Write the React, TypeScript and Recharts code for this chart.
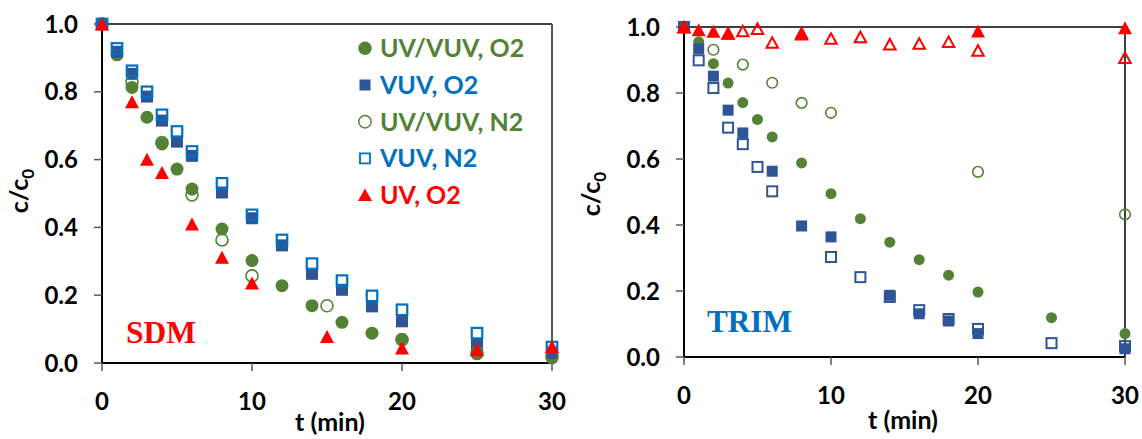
import React from 'react';
import { ScatterChart, Scatter, XAxis, YAxis, ReferenceLine } from 'recharts';

// ---------- data ----------
const xTicks = [0, 10, 20, 30];
const yTicks = [0, 0.2, 0.4, 0.6, 0.8, 1.0];

// SDM panel
const sdmUvVuvO2T = [0, 1, 2, 3, 4, 5, 6, 8, 10, 12, 14, 16, 18, 20, 25, 30];
const sdmUvVuvO2C = [1.0, 0.909, 0.813, 0.725, 0.646, 0.572, 0.513, 0.395, 0.302, 0.228, 0.169, 0.12, 0.088, 0.069, 0.027, 0.015];
const sdmVuvO2T = [0, 1, 2, 3, 4, 5, 6, 8, 10, 12, 14, 16, 18, 20, 25, 30];
const sdmVuvO2C = [1.0, 0.918, 0.853, 0.786, 0.715, 0.653, 0.611, 0.503, 0.427, 0.347, 0.263, 0.216, 0.167, 0.123, 0.054, 0.03];
const sdmUvVuvN2T = [0, 2, 4, 6, 8, 10, 15, 20, 25, 30];
const sdmUvVuvN2C = [1.0, 0.83, 0.65, 0.496, 0.363, 0.257, 0.169, 0.069, 0.03, 0.02];
const sdmVuvN2T = [0, 1, 2, 3, 4, 5, 6, 8, 10, 12, 14, 16, 18, 20, 25, 30];
const sdmVuvN2C = [1.0, 0.928, 0.862, 0.8, 0.732, 0.683, 0.624, 0.53, 0.437, 0.363, 0.293, 0.243, 0.198, 0.157, 0.088, 0.047];
const sdmUvO2T = [0, 2, 3, 4, 6, 8, 10, 15, 20, 25, 30];
const sdmUvO2C = [1.0, 0.771, 0.601, 0.562, 0.41, 0.312, 0.236, 0.078, 0.044, 0.039, 0.049];

// TRIM panel
const trimUvVuvO2T = [0, 1, 2, 3, 4, 5, 6, 8, 10, 12, 14, 16, 18, 20, 25, 30];
const trimUvVuvO2C = [1.0, 0.955, 0.889, 0.83, 0.771, 0.72, 0.667, 0.588, 0.495, 0.419, 0.348, 0.295, 0.248, 0.197, 0.119, 0.071];
const trimVuvO2T = [0, 1, 2, 3, 4, 6, 8, 10, 14, 16, 18, 20, 30];
const trimVuvO2C = [1.0, 0.934, 0.851, 0.748, 0.679, 0.563, 0.397, 0.364, 0.187, 0.131, 0.109, 0.071, 0.025];
const trimUvVuvN2T = [0, 2, 4, 6, 8, 10, 20, 30];
const trimUvVuvN2C = [1.0, 0.931, 0.886, 0.831, 0.77, 0.74, 0.561, 0.432];
const trimVuvN2T = [0, 1, 2, 3, 4, 5, 6, 10, 12, 14, 16, 18, 20, 25, 30];
const trimVuvN2C = [1.0, 0.899, 0.815, 0.695, 0.645, 0.576, 0.502, 0.303, 0.242, 0.182, 0.142, 0.115, 0.085, 0.042, 0.033];
const trimUvO2T = [0, 1, 2, 3, 8, 20, 30];
const trimUvO2C = [1.0, 0.992, 0.987, 0.982, 0.983, 0.988, 0.998];
const trimUvN2T = [0, 3, 4, 5, 6, 8, 10, 12, 14, 16, 18, 20, 30];
const trimUvN2C = [1.0, 0.98, 0.988, 0.995, 0.953, 0.978, 0.965, 0.97, 0.948, 0.95, 0.955, 0.929, 0.907];

const legendNames = ['UV/VUV, O2', 'VUV, O2', 'UV/VUV, N2', 'VUV, N2', 'UV, O2'];

// ---------- styles ----------
const GREEN = '#548235';
const DBLUE = '#2F5597';
const BLUE = '#0070C0';
const RED = '#FF0000';
const FONT = 'Lato, "Open Sans", sans-serif';

const zip = (t: number[], c: number[]) => t.map((x, i) => ({ x, y: c[i] }));

type Shape = (p: any) => React.ReactElement;
const circle = (r: number, fill: string, stroke: string, sw: number): Shape => (p: any) => (
  <circle cx={p.cx} cy={p.cy} r={r} fill={fill} stroke={stroke} strokeWidth={sw} />
);
const square = (s: number, fill: string, stroke: string, sw: number): Shape => (p: any) => (
  <rect x={p.cx - s / 2} y={p.cy - s / 2} width={s} height={s} fill={fill} stroke={stroke} strokeWidth={sw} />
);
const triangle = (w: number, h: number, fill: string, stroke: string, sw: number): Shape => (p: any) => (
  <polygon
    points={`${p.cx},${p.cy - h / 2} ${p.cx + w / 2},${p.cy + h / 2} ${p.cx - w / 2},${p.cy + h / 2}`}
    fill={fill}
    stroke={stroke}
    strokeWidth={sw}
    strokeLinejoin="miter"
  />
);

const tickStyle = { fontSize: 24, fontWeight: 700, fill: '#000', fontFamily: FONT };

interface PanelProps {
  left: number;
  width: number;
  margin: { top: number; right: number; bottom: number; left: number };
  rightLineColor: string;
  series: { data: { x: number; y: number }[]; shape: Shape; name: string }[];
}

const Panel = ({ left, width, margin, rightLineColor, series }: PanelProps) => (
  <div style={{ position: 'absolute', left, top: 0 }}>
    <ScatterChart width={width} height={439} margin={margin}>
      <XAxis
        type="number"
        dataKey="x"
        domain={[0, 30]}
        ticks={xTicks}
        height={40}
        tick={tickStyle}
        tickSize={8}
        tickMargin={22}
        axisLine={{ stroke: '#000', strokeWidth: 2 }}
        tickLine={{ stroke: '#595959', strokeWidth: 1.5 }}
        allowDecimals={false}
      />
      <YAxis
        type="number"
        dataKey="y"
        domain={[0, 1]}
        ticks={yTicks}
        width={60}
        tick={tickStyle}
        tickSize={8}
        tickMargin={16}
        tickFormatter={(v: number) => v.toFixed(1)}
        axisLine={{ stroke: '#000', strokeWidth: 2 }}
        tickLine={{ stroke: '#595959', strokeWidth: 1.5 }}
      />
      <ReferenceLine y={1} stroke="#000" strokeWidth={1.5} />
      <ReferenceLine x={30} stroke={rightLineColor} strokeWidth={2} />
      {series.map((s, i) => (
        <Scatter key={i} name={s.name} data={s.data} shape={s.shape} isAnimationActive={false} />
      ))}
    </ScatterChart>
  </div>
);

const sdmSeries = [
  { name: legendNames[0], data: zip(sdmUvVuvO2T, sdmUvVuvO2C), shape: circle(6.5, GREEN, 'none', 0) },
  { name: legendNames[1], data: zip(sdmVuvO2T, sdmVuvO2C), shape: square(12, DBLUE, 'none', 0) },
  { name: legendNames[2], data: zip(sdmUvVuvN2T, sdmUvVuvN2C), shape: circle(6, 'none', GREEN, 1.6) },
  { name: legendNames[3], data: zip(sdmVuvN2T, sdmVuvN2C), shape: square(10.5, 'none', BLUE, 2.2) },
  { name: legendNames[4], data: zip(sdmUvO2T, sdmUvO2C), shape: triangle(14, 13, RED, 'none', 0) },
];

const trimSeries = [
  { name: legendNames[0], data: zip(trimUvVuvO2T, trimUvVuvO2C), shape: circle(5.5, GREEN, 'none', 0) },
  { name: legendNames[1], data: zip(trimVuvO2T, trimVuvO2C), shape: square(11, DBLUE, 'none', 0) },
  { name: legendNames[2], data: zip(trimUvVuvN2T, trimUvVuvN2C), shape: circle(5.3, 'none', GREEN, 1.6) },
  { name: legendNames[3], data: zip(trimVuvN2T, trimVuvN2C), shape: square(10, 'none', DBLUE, 2) },
  { name: legendNames[4], data: zip(trimUvO2T, trimUvO2C), shape: triangle(14, 13, RED, 'none', 0) },
  { name: 'UV, N2', data: zip(trimUvN2T, trimUvN2C), shape: triangle(11.5, 10.5, 'none', RED, 2) },
];

const legendColors = [GREEN, BLUE, GREEN, BLUE, RED];
const legendMarkers = [
  (x: number, y: number) => <circle cx={x} cy={y} r={6.7} fill={GREEN} />,
  (x: number, y: number) => <rect x={x - 5.5} y={y - 5.5} width={11} height={11} fill={DBLUE} />,
  (x: number, y: number) => <circle cx={x} cy={y} r={6.2} fill="none" stroke={GREEN} strokeWidth={1.5} />,
  (x: number, y: number) => <rect x={x - 5} y={y - 5} width={10} height={10} fill="none" stroke={BLUE} strokeWidth={1.8} />,
  (x: number, y: number) => <polygon points={`${x},${y - 6.5} ${x + 7},${y + 6} ${x - 7},${y + 6}`} fill={RED} />,
];

const YLabel = ({ x, y }: { x: number; y: number }) => (
  <text
    transform={`translate(${x},${y}) rotate(-90)`}
    textAnchor="middle"
    fontFamily={FONT}
    fontWeight={700}
    fontSize={25}
    fill="#000"
  >
    c/c
    <tspan fontSize={17} dy={6}>0</tspan>
  </text>
);

export default function App() {
  return (
    <div style={{ position: 'absolute', left: 0, top: 0, width: 1142, height: 439, background: '#fff' }}>
      <Panel
        left={0}
        width={580}
        margin={{ top: 24, right: 28, bottom: 36, left: 42 }}
        rightLineColor="#595959"
        series={sdmSeries}
      />
      <Panel
        left={580}
        width={562}
        margin={{ top: 27, right: 17, bottom: 42, left: 44 }}
        rightLineColor="#404040"
        series={trimSeries}
      />
      <svg width={1142} height={439} style={{ position: 'absolute', left: 0, top: 0, pointerEvents: 'none' }}>
        {/* legend */}
        {legendNames.map((n, i) => {
          const base = 57.3 + i * 36.7;
          return (
            <g key={n}>
              {legendMarkers[i](365, base - 9)}
              <text x={380} y={base} fontFamily={FONT} fontWeight={700} fontSize={25} fill={legendColors[i]}>
                {n}
              </text>
            </g>
          );
        })}
        {/* panel labels */}
        <text x={126} y={342.7} fontFamily='"Liberation Serif", "Times New Roman", serif' fontWeight={700} fontSize={31.5} fill={RED}>
          SDM
        </text>
        <text x={707} y={331.7} fontFamily='"Liberation Serif", "Times New Roman", serif' fontWeight={700} fontSize={31.2} fill={BLUE}>
          TRIM
        </text>
        {/* axis titles */}
        <text x={330} y={431} textAnchor="middle" fontFamily={FONT} fontWeight={700} fontSize={25} fill="#000">
          t (min)
        </text>
        <text x={903} y={429} textAnchor="middle" fontFamily={FONT} fontWeight={700} fontSize={25} fill="#000">
          t (min)
        </text>
        <YLabel x={27.5} y={191} />
        <YLabel x={600} y={194} />
      </svg>
    </div>
  );
}
